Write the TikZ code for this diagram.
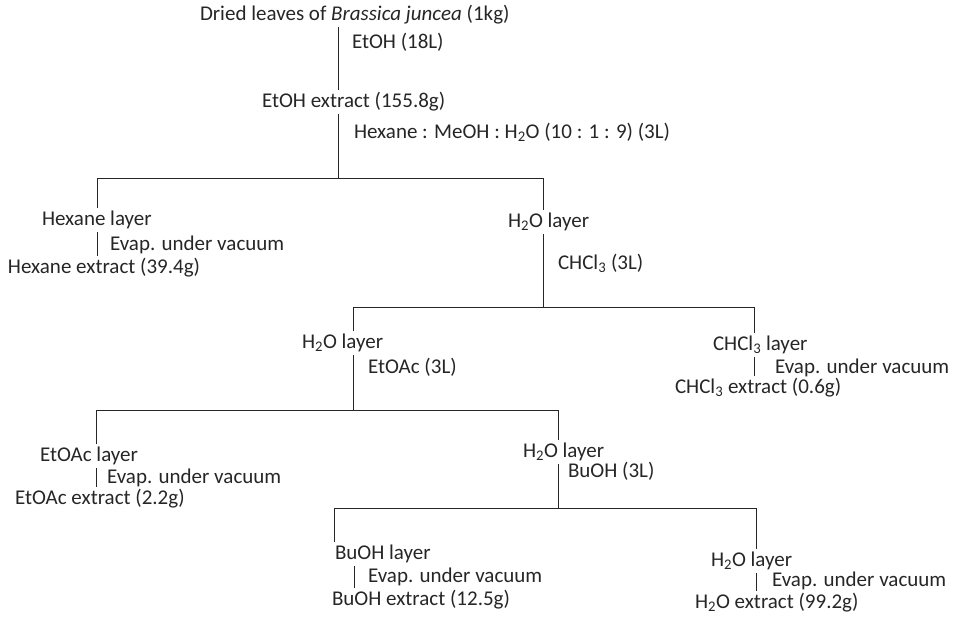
\documentclass[tikz,border=0pt]{standalone}
\usepackage{fontspec}
\setmainfont{Carlito}
\begin{document}
\begin{tikzpicture}[x=1pt,y=-1pt,
  lbl/.style={inner sep=0pt, outer xsep=0pt, outer ysep=2pt, anchor=west,
    text height=15pt, text depth=5pt, text=black!85,
    font=\fontsize{21}{24}\selectfont},
  ln/.style={draw=black!85, line width=0.8pt}]
\useasboundingbox (0,0) rectangle (956,619);
% ---- text nodes
\node[lbl] (t0) at (200,15) {Dried leaves of \textit{Brassica juncea} (1kg)};
\node[lbl] (s1) at (352,43) {EtOH (18L)};
\node[lbl] (n1) at (262,102) {EtOH extract (155.8g)};
\node[lbl] (s2) at (354,133) {Hexane : MeOH : H\textsubscript{2}O (10 : 1 : 9) (3L)};
\node[lbl] (hexL) at (42,220) {Hexane layer};
\node[lbl] (ev1) at (110,245) {Evap. under vacuum};
\node[lbl] (hexE) at (8,268) {Hexane extract (39.4g)};
\node[lbl] (h2oA) at (508,222) {H\textsubscript{2}O layer};
\node[lbl] (s3) at (558,264) {CHCl\textsubscript{3} (3L)};
\node[lbl] (h2oB) at (302,343) {H\textsubscript{2}O layer};
\node[lbl] (s4) at (368,368) {EtOAc (3L)};
\node[lbl] (chlL) at (713,345) {CHCl\textsubscript{3} layer};
\node[lbl] (ev2) at (775,368) {Evap. under vacuum};
\node[lbl] (chlE) at (675,388) {CHCl\textsubscript{3} extract (0.6g)};
\node[lbl] (etaL) at (40,456) {EtOAc layer};
\node[lbl] (ev3) at (107,478) {Evap. under vacuum};
\node[lbl] (etaE) at (15,499) {EtOAc extract (2.2g)};
\node[lbl] (h2oC) at (523,452) {H\textsubscript{2}O layer};
\node[lbl] (s5) at (568,472) {BuOH (3L)};
\node[lbl] (buL) at (335,554) {BuOH layer};
\node[lbl] (ev4) at (368,577) {Evap. under vacuum};
\node[lbl] (buE) at (332,600) {BuOH extract (12.5g)};
\node[lbl] (h2oD) at (711,561) {H\textsubscript{2}O layer};
\node[lbl] (ev5) at (772,581) {Evap. under vacuum};
\node[lbl] (h2oE) at (695,603) {H\textsubscript{2}O extract (99.2g)};
% ---- junction coordinates
\coordinate (j1) at (338,178);
\coordinate (c1) at (97,178);
\coordinate (c2) at (543,178);
\coordinate (j2) at (543,307);
\coordinate (c3) at (353,307);
\coordinate (c4) at (754,307);
\coordinate (j3) at (353,410);
\coordinate (c5) at (96,410);
\coordinate (c6) at (558,410);
\coordinate (j4) at (558,508);
\coordinate (c7) at (334,508);
\coordinate (c8) at (756,508);
\coordinate (e4) at (354,0);
% ---- connectors
\draw[ln] (t0.south -| j1) -- (n1.north -| j1);
\draw[ln] (n1.south -| j1) -- (j1);
\draw[ln] (hexL.north -| c1) -- (c1) -- (c2) -- (h2oA.north -| c2);
\draw[ln] (hexL.south -| c1) -- (hexE.north -| c1);
\draw[ln] (h2oA.south -| j2) -- (j2);
\draw[ln] (h2oB.north -| c3) -- (c3) -- (c4) -- (chlL.north -| c4);
\draw[ln] (chlL.south -| c4) -- (chlE.north -| c4);
\draw[ln] (h2oB.south -| j3) -- (j3);
\draw[ln] (etaL.north -| c5) -- (c5) -- (c6) -- (h2oC.north -| c6);
\draw[ln] (etaL.south -| c5) -- (etaE.north -| c5);
\draw[ln] (h2oC.south -| j4) -- (j4);
\draw[ln] (buL.north -| c7) -- (c7) -- (c8) -- (h2oD.north -| c8);
\draw[ln] (buL.south -| e4) -- (buE.north -| e4);
\draw[ln] (h2oD.south -| c8) -- (h2oE.north -| c8);
\end{tikzpicture}
\end{document}
